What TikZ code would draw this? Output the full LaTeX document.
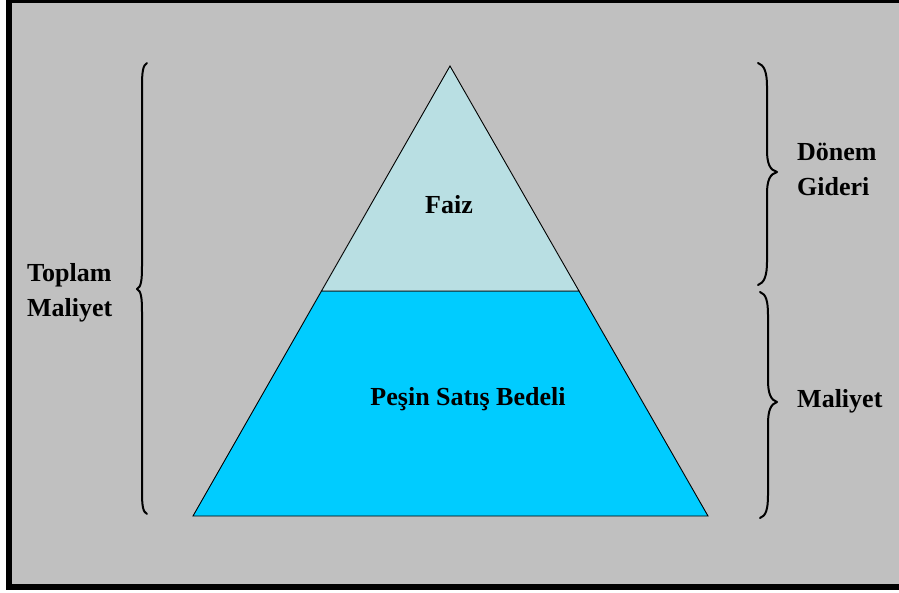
\documentclass[tikz,border=0pt]{standalone}
\usepackage{fontspec}
\setmainfont{Liberation Serif}
\definecolor{bggray}{HTML}{C0C0C0}
\definecolor{toplight}{HTML}{B9DFE3}
\definecolor{botcyan}{HTML}{00CCFF}
\begin{document}
\begin{tikzpicture}[x=1pt,y=-1pt,
  lbl/.style={font=\fontsize{26}{35}\selectfont\bfseries, inner sep=0pt, align=left},
  brc/.style={line width=2pt, line cap=round, line join=round},
  tri/.style={draw=black, line width=0.9pt, line join=miter}]
\useasboundingbox (0,0) rectangle (899,592);
\fill[white] (0,0) rectangle (899,592);
\fill[black] (6,-5) rectangle (905,590);
\fill[bggray] (12,3) rectangle (905,584);
% triangle parts
\coordinate (apex) at (450,66);
\coordinate (bl) at (193,516);
\coordinate (br) at (708,516);
\coordinate (ml) at (321.5,291);
\coordinate (mr) at (579,291);
\filldraw[tri, fill=botcyan] (ml) -- (mr) -- (br) -- (bl) -- cycle;
\filldraw[tri, fill=toplight] (apex) -- (mr) -- (ml) -- cycle;
% labels
\node[lbl, anchor=center] (faiz) at (449,205) {Faiz};
\node[lbl, anchor=center] (pesin) at (468,399) {Peşin Satış Bedeli};
\node[lbl, anchor=west] (toplam) at (27,293) {Toplam\\Maliyet};
\node[lbl, anchor=west] (donem) at (797,169) {Dönem\\Gideri};
\node[lbl, anchor=west] (maliyet) at (797,401) {Maliyet};
% left brace (pointing left)
\draw[brc] (147,63) .. controls (143,65) and (142,72) .. (142,86) -- (142,266)
  .. controls (142,281) and (141,287) .. (137,289)
  .. controls (141,291) and (142,297) .. (142,312)
  -- (142,492) .. controls (142,506) and (143,512) .. (147,514);
% right top brace
\draw[brc] (758,63) .. controls (764,65) and (767,72) .. (767,86) -- (767,150)
  .. controls (767,164) and (770,170) .. (777,172)
  .. controls (770,174) and (767,180) .. (767,194)
  -- (767,262) .. controls (767,276) and (764,283) .. (758,285);
% right bottom brace
\draw[brc] (760,292) .. controls (766,294) and (768,301) .. (768,315) -- (768,380)
  .. controls (768,394) and (771,400) .. (777,402)
  .. controls (771,404) and (768,410) .. (768,424)
  -- (768,495) .. controls (768,509) and (766,516) .. (760,518);
\end{tikzpicture}
\end{document}
